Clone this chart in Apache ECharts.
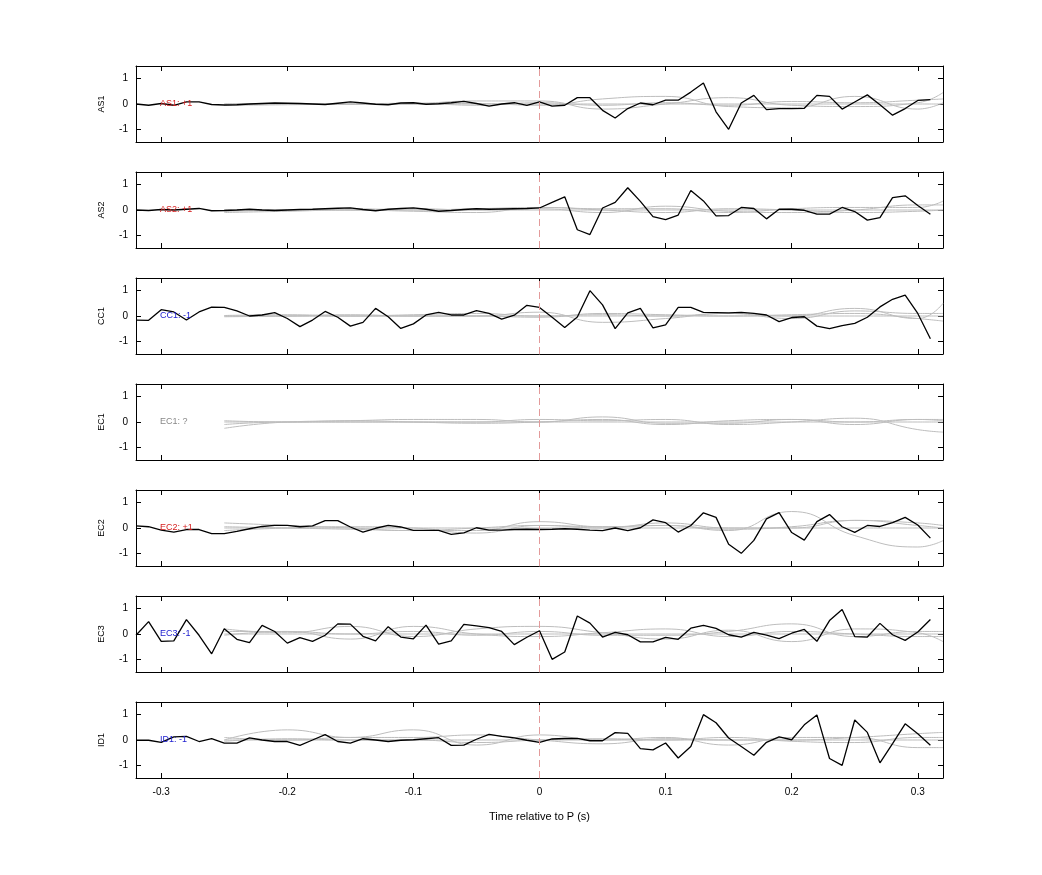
<!DOCTYPE html>
<html>
<head>
<meta charset="utf-8">
<script src="https://cdn.jsdelivr.net/npm/echarts@6/dist/echarts.min.js"></script>
<style>html,body{margin:0;background:#fff}#chart{width:1042px;height:875px}</style>
</head>
<body>
<div id="chart"></div>
<script>
// Channel names and labels
const channels = ['AS1', 'AS2', 'CC1', 'EC1', 'EC2', 'EC3', 'ID1'];
const tags = ['AS1: +1', 'AS2: +1', 'CC1: -1', 'EC1: ?', 'EC2: +1', 'EC3: -1', 'ID1: -1'];
const tagColors = ['#d62020', '#d62020', '#2020d0', '#888888', '#d62020', '#2020d0', '#2020d0'];
const xTicks = [-0.3, -0.2, -0.1, 0, 0.1, 0.2, 0.3];

// Black traces, sampled every 0.01 s from -0.32 to 0.31
const as1 = [0,-0.05,0.02,-0.05,0.08,0.08,-0.02,-0.04,-0.03,0,0.02,0.04,0.03,0.02,0,-0.02,0.03,0.08,0.04,-0.01,-0.03,0.04,0.05,-0.01,0.01,0.05,0.1,0.02,-0.08,0,0.05,-0.05,
  0.08,-0.08,-0.05,0.25,0.25,-0.25,-0.55,-0.18,0.04,-0.03,0.15,0.15,0.47,0.83,-0.31,-1.0,0.04,0.34,-0.22,-0.18,-0.18,-0.17,0.34,0.3,-0.2,0.08,0.36,-0.03,-0.44,-0.18,0.14,0.17];
const as2 = [0,-0.02,0.02,0.0,0.03,0.06,-0.03,-0.02,0,0.03,0,-0.02,0,0.02,0.03,0.05,0.07,0.08,0.02,-0.03,0.03,0.06,0.08,0.03,-0.05,-0.02,0.02,0.05,0.03,0.04,0.05,0.06,
  0.08,0.3,0.52,-0.78,-0.97,0.08,0.3,0.88,0.34,-0.26,-0.38,-0.2,0.77,0.36,-0.23,-0.22,0.1,0.06,-0.35,0.03,0.03,-0.01,-0.16,-0.16,0.1,-0.06,-0.4,-0.3,0.49,0.56,0.18,-0.17];
const cc1 = [-0.16,-0.17,0.25,0.16,-0.16,0.16,0.35,0.34,0.2,0,0.04,0.13,-0.1,-0.42,-0.16,0.18,-0.05,-0.4,-0.25,0.3,-0.03,-0.49,-0.31,0.04,0.14,0.04,0.04,0.21,0.1,-0.12,0.03,0.42,
  0.34,-0.05,-0.45,-0.04,1.0,0.44,-0.5,0.12,0.3,-0.47,-0.35,0.34,0.34,0.14,0.13,0.12,0.14,0.1,0.04,-0.22,-0.06,-0.03,-0.4,-0.5,-0.38,-0.29,-0.05,0.36,0.66,0.82,0.1,-0.9];
const ec1 = [];
const ec2 = [0.08,0.05,-0.08,-0.16,-0.06,-0.06,-0.22,-0.22,-0.13,-0.03,0.06,0.1,0.1,0.05,0.08,0.29,0.29,0.04,-0.16,-0.01,0.1,0.04,-0.09,-0.09,-0.09,-0.25,-0.19,0.01,-0.08,-0.08,-0.06,-0.05,
  -0.06,-0.05,-0.03,-0.05,-0.08,-0.1,0,-0.1,0.01,0.32,0.21,-0.16,0.1,0.6,0.42,-0.64,-1.0,-0.49,0.36,0.61,-0.18,-0.48,0.25,0.53,0.05,-0.17,0.1,0.06,0.21,0.42,0.12,-0.4];
const ec3 = [-0.05,0.49,-0.29,-0.27,0.57,-0.05,-0.78,0.21,-0.21,-0.34,0.34,0.1,-0.36,-0.14,-0.29,-0.05,0.4,0.39,-0.09,-0.27,0.29,-0.12,-0.19,0.35,-0.4,-0.27,0.38,0.32,0.25,0.1,-0.42,-0.13,
  0.13,-1.0,-0.71,0.71,0.43,-0.12,0.06,-0.03,-0.31,-0.31,-0.13,-0.21,0.23,0.34,0.22,-0.03,-0.12,0.06,-0.04,-0.18,0.03,0.18,-0.29,0.53,0.97,-0.1,-0.12,0.42,-0.03,-0.25,0.08,0.57];
const id1 = [-0.01,-0.01,-0.09,0.12,0.14,-0.06,0.05,-0.12,-0.12,0.08,0,-0.06,-0.06,-0.21,0,0.21,-0.06,-0.12,0.05,0,-0.06,-0.01,0.01,0.05,0.09,-0.21,-0.2,0.03,0.22,0.14,0.08,-0.01,
  -0.09,0.04,0.06,0.06,-0.03,-0.03,0.29,0.26,-0.34,-0.39,-0.12,-0.71,-0.26,1.0,0.68,0.08,-0.26,-0.6,-0.09,0.12,0.01,0.6,0.99,-0.73,-1.0,0.79,0.3,-0.9,-0.14,0.64,0.25,-0.21];
const blackTraces = [as1, as2, cc1, ec1, ec2, ec3, id1];

// Gray traces, sampled every 0.05 s from -0.25 to 0.30, then 0.32
const grayT = [-0.25,-0.2,-0.15,-0.1,-0.05,0,0.05,0.1,0.15,0.2,0.25,0.3,0.32];
const grayAS1 = [
  [0,0,0,0.02,0.12,0.12,-0.2,0.0,0.25,-0.05,-0.1,0.05,0.45],
  [-0.05,0,-0.02,0,0.02,-0.05,0.2,0.3,-0.1,-0.15,0.3,-0.2,0.05],
  [0,0.02,0,0,0,0,0,0,0,0,0,0,0],
  [-0.05,-0.03,0,0.03,-0.05,0.05,-0.05,0.05,-0.05,0.1,0.05,0.15,0.2]];
const grayAS2 = [
  [-0.1,-0.05,0,-0.05,-0.1,0.1,0.05,0.05,-0.1,0.05,0.1,0.1,0.35],
  [0,0.02,0,0.05,0,0.05,-0.1,0.15,-0.05,-0.1,0.0,0.2,0.2],
  [0,0,0,0,0,0,0,0,0,0,0,0,0],
  [-0.05,0,0.05,0,0.05,0.1,0,-0.1,0.05,0,-0.1,-0.05,0.0]];
const grayCC1 = [
  [0,0,0,0,0,0.15,-0.25,-0.1,0.1,0,0.3,-0.1,0.5],
  [0.02,0.05,0,0.05,0.1,0,0.05,0.0,0.1,-0.1,0.2,0.1,0.1],
  [0,0,0,0,0,0,0,0,0,0,0,0,0],
  [-0.03,0,0.05,0,0,-0.05,0.1,0.05,0,0.05,0.1,-0.1,-0.2]];
const grayEC1 = [
  [-0.25,0,0.05,0.1,0.1,0,0.2,-0.05,-0.05,0.1,0,0.1,0.1],
  [-0.1,0,0,0,0,0.1,0.05,0.1,-0.1,0,0.15,-0.3,-0.4],
  [0,0,0,0,0,0,0,0,0,0,0,0,0],
  [0.05,0,0.05,0,-0.05,0,0.1,-0.1,0.05,0.1,-0.1,0.1,0.05]];
const grayEC2 = [
  [0.2,0.1,0,-0.1,-0.1,0.25,0.05,0.1,-0.1,0.65,-0.3,-0.75,-0.5],
  [0.05,0,-0.05,-0.1,0,0.1,0,0.2,0,0,0.3,0.1,0.0],
  [0,0,0,0,0,0,0,0,0,0,0,0,0],
  [-0.1,0,0.05,0,-0.2,0.1,0.05,0.1,-0.05,0.05,0.3,0.2,0.1]];
const grayEC3 = [
  [0.2,0.05,0.3,-0.1,0.2,0.3,0.05,-0.2,0.15,-0.3,0.2,0.05,-0.3],
  [0.1,0.1,-0.2,0.3,0,-0.1,0.05,0.2,-0.1,0.1,0.0,-0.1,-0.1],
  [0,0,0,0,0,0,0,0,0,0,0,0,0],
  [-0.05,0.1,0,0.1,-0.05,0.1,-0.05,-0.05,0.1,0.4,-0.1,0.1,0.1]];
const grayID1 = [
  [0,0.4,0.1,0.4,-0.2,0.2,0.0,0.1,-0.2,0.1,0.1,-0.3,-0.3],
  [0.1,0,0.1,0.1,0.2,0,-0.15,0.05,0,0,0.1,0.25,0.3],
  [0,0,0,0,0,0,0,0,0,0,0,0,0],
  [-0.05,0.05,0,0,-0.1,0,0.05,0,0.1,-0.05,-0.1,0.1,0.1]];
const grayTraces = [grayAS1, grayAS2, grayCC1, grayEC1, grayEC2, grayEC3, grayID1];

const chart = echarts.init(document.getElementById('chart'));
const grids = [], xAxes = [], yAxes = [], series = [];
const font = 'Liberation Sans';

channels.forEach((name, i) => {
  grids.push({ left: 136, width: 807, top: 66 + 106 * i, height: 76 });
  const last = i === channels.length - 1;
  const tickStyle = { show: true, inside: true, length: 5, lineStyle: { color: '#000' } };
  const lineStyle = { show: true, onZero: false, lineStyle: { color: '#000' } };
  // bottom and top x axes
  xAxes.push({
    type: 'value', gridIndex: i, min: -0.32, max: 0.32,
    position: 'bottom', axisLine: lineStyle, splitLine: { show: false },
    axisLabel: { show: last, color: '#000', fontSize: 10, fontFamily: font, margin: 9,
      customValues: xTicks, formatter: v => String(Math.round(v * 10) / 10) },
    axisTick: Object.assign({ customValues: xTicks }, tickStyle),
    name: last ? 'Time relative to P (s)' : '', nameLocation: 'middle', nameGap: 33,
    nameTextStyle: { color: '#000', fontSize: 11, fontFamily: font }
  });
  xAxes.push({
    type: 'value', gridIndex: i, min: -0.32, max: 0.32, position: 'top',
    axisLine: lineStyle, axisTick: Object.assign({ customValues: xTicks }, tickStyle),
    axisLabel: { show: false }, splitLine: { show: false }
  });
  yAxes.push({
    type: 'value', gridIndex: i, min: -1.5, max: 1.5, position: 'left',
    axisLine: lineStyle, axisTick: Object.assign({ customValues: [-1, 0, 1] }, tickStyle),
    axisLabel: { color: '#000', fontSize: 10, fontFamily: font, margin: 8, customValues: [-1, 0, 1] },
    splitLine: { show: false },
    name: name, nameLocation: 'middle', nameGap: 30, nameRotate: 90,
    nameTextStyle: { color: '#000', fontSize: 9, fontFamily: font }
  });
  yAxes.push({
    type: 'value', gridIndex: i, min: -1.5, max: 1.5, position: 'right',
    axisLine: lineStyle, axisTick: Object.assign({ customValues: [-1, 0, 1] }, tickStyle),
    axisLabel: { show: false }, splitLine: { show: false }
  });

  // Gray traces
  grayTraces[i].forEach(g => {
    series.push({
      type: 'line', xAxisIndex: 2 * i, yAxisIndex: 2 * i, smooth: 0.5, symbol: 'none',
      silent: true, lineStyle: { color: '#bdbdbd', width: 1 },
      data: grayT.map((t, k) => [t, g[k]])
    });
  });

  // Black trace with tag and zero marker
  const trace = blackTraces[i];
  series.push({
    type: 'line', xAxisIndex: 2 * i, yAxisIndex: 2 * i, symbol: 'none',
    lineStyle: { color: '#000', width: 1.3 },
    data: trace.map((v, k) => [Math.round(-32 + k) / 100, v]),
    markLine: {
      silent: true, symbol: 'none', label: { show: false },
      lineStyle: { color: '#e39a9a', type: [7, 4], width: 1 },
      data: [{ xAxis: 0 }]
    },
    markPoint: {
      symbol: 'rect', symbolSize: 0,
      label: { show: true, formatter: tags[i], color: tagColors[i], fontSize: 9, fontFamily: font, position: 'right', offset: [0, 0] },
      data: [{ coord: [-0.305, 0] }]
    }
  });
});

chart.setOption({
  animation: false,
  grid: grids,
  xAxis: xAxes,
  yAxis: yAxes,
  series: series
});
</script>
</body>
</html>
